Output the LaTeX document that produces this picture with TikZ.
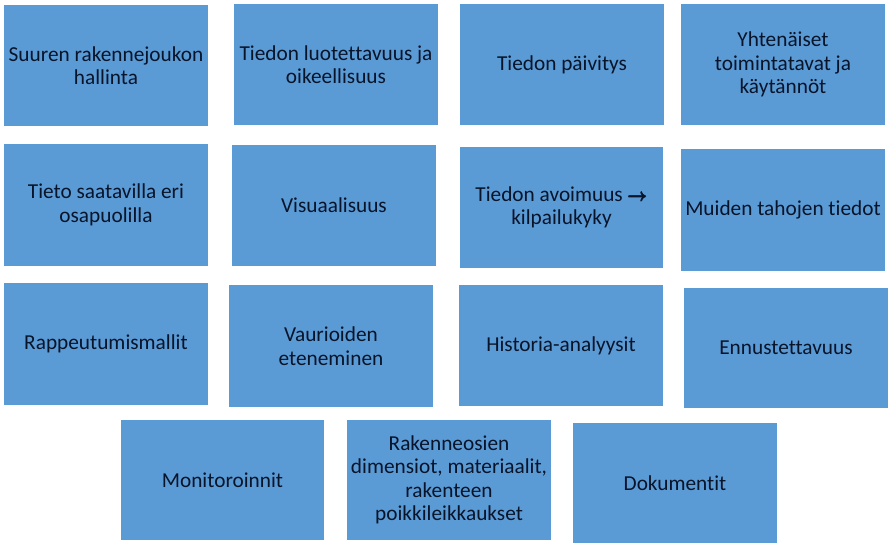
\documentclass[tikz,border=0pt]{standalone}
\usepackage{amsmath}
\usepackage{fontspec}
\setmainfont{Carlito}[Ligatures={NoCommon}]
\definecolor{boxblue}{HTML}{5B9BD5}
\definecolor{boxtext}{HTML}{08142A}
\newcommand{\cardarrow}{{\fontsize{19}{23}\selectfont$\pmb{\boldsymbol{\rightarrow}}$}}
\begin{document}
\begin{tikzpicture}[x=1pt,y=-1pt,
  card/.style={fill=boxblue,draw=none,text=boxtext,align=center,
    font=\fontsize{21.3}{23.5}\selectfont,inner sep=0pt}]
\useasboundingbox[fill=white] (0,0) rectangle (892,548);
% row 1
\path[card] (4,5) rectangle (208,126) node[midway] (b1) {Suuren rakennejoukon\\hallinta};
\path[card] (234,4) rectangle (438,125) node[midway] (b2) {Tiedon luotettavuus ja\\oikeellisuus};
\path[card] (460,4) rectangle (664,125) node[midway] (b3) {Tiedon päivitys};
\path[card] (681,4) rectangle (885,125) node[midway] (b4) {Yhtenäiset\\toimintatavat ja\\käytännöt};
% row 2
\path[card] (4,144) rectangle (208,266) node[midway] (b5) {Tieto saatavilla eri\\osapuolilla};
\path[card] (232,145) rectangle (436,266) node[midway] (b6) {Visuaalisuus};
\path[card] (460,147) rectangle (663,268) node[midway] (b7) {Tiedon avoimuus \cardarrow\\kilpailukyky};
\path[card] (681,149) rectangle (885,271) node[midway] (b8) {Muiden tahojen tiedot};
% row 3
\path[card] (4,283) rectangle (208,405) node[midway] (b9) {Rappeutumismallit};
\path[card] (229,285) rectangle (433,407) node[midway] (b10) {Vaurioiden\\eteneminen};
\path[card] (459,285) rectangle (663,406) node[midway] (b11) {Historia-analyysit};
\path[card] (684,288) rectangle (888,408) node[midway] (b12) {Ennustettavuus};
% row 4
\path[card] (121,420) rectangle (324,540) node[midway] (b13) {Monitoroinnit};
\path[card] (347,420) rectangle (551,540) node[midway] (b14) {Rakenneosien\\dimensiot, materiaalit,\\rakenteen\\poikkileikkaukset};
\path[card] (573,423) rectangle (777,543) node[midway] (b15) {Dokumentit};
\end{tikzpicture}
\end{document}
